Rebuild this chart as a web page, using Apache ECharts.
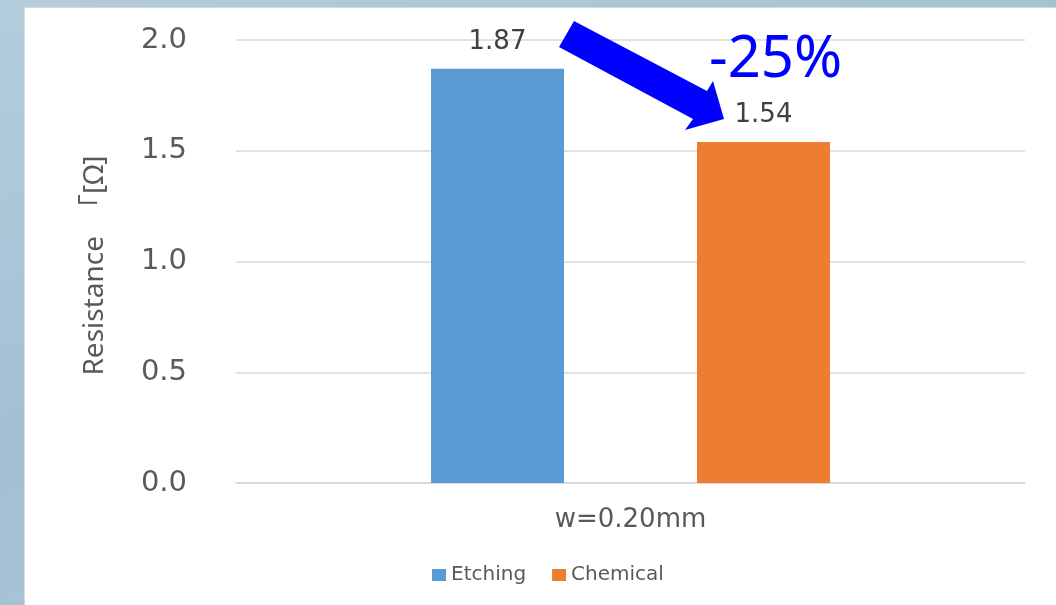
<!DOCTYPE html>
<html>
<head>
<meta charset="utf-8">
<script src="https://cdn.jsdelivr.net/npm/echarts@6/dist/echarts.min.js"></script>
<style>
  html, body { margin: 0; padding: 0; width: 1056px; height: 605px; overflow: hidden; }
  body { background: linear-gradient(160deg, #b3cddd 0%, #a3c0d3 45%, #afc9da 100%); position: relative; }
  #panel { position: absolute; left: 24px; top: 7px; right: 0; bottom: 0; background: #fff; border-left: 1px solid #d8d8d8; border-top: 1px solid #d8d8d8; }
  #chart { position: absolute; left: 0; top: 0; width: 1056px; height: 605px; }
</style>
</head>
<body>
<div id="panel"></div>
<div id="chart"></div>
<script>
// Resistance by process for a 0.20 mm wide trace
const categories = ['w=0.20mm'];
const seriesNames = ['Etching', 'Chemical'];
const etchingValues = [1.87];
const chemicalValues = [1.54];
const yTicks = [0, 0.5, 1.0, 1.5, 2.0];
const yAxisTitle = 'Resistance　「[Ω]';
const changeLabel = '-25%';

const textGrey = '#595959';
const wideFont = '"DejaVu Sans", "Noto Sans", sans-serif';
const plainFont = '"Noto Sans", "Noto Sans CJK JP", sans-serif';

const chart = echarts.init(document.getElementById('chart'), null, { renderer: 'canvas' });

const barLabel = {
  show: true,
  position: 'top',
  distance: 14,
  fontSize: 26,
  color: '#404040',
  fontFamily: wideFont,
  formatter: p => p.value.toFixed(2)
};

chart.setOption({
  backgroundColor: 'transparent',
  animation: false,
  textStyle: { fontFamily: wideFont },
  grid: { left: 236, right: 31, top: 40, bottom: 122 },
  legend: {
    data: seriesNames,
    top: 560,
    left: 427,
    icon: 'rect',
    itemWidth: 14,
    itemHeight: 12,
    itemGap: 26,
    textStyle: { fontSize: 20, color: textGrey, fontFamily: wideFont }
  },
  xAxis: {
    type: 'category',
    data: categories,
    axisLine: { lineStyle: { color: '#d9d9d9', width: 1.5 } },
    axisTick: { show: false },
    axisLabel: { fontSize: 26, color: textGrey, margin: 24, fontFamily: wideFont }
  },
  yAxis: {
    type: 'value',
    min: yTicks[0],
    max: yTicks[yTicks.length - 1],
    interval: yTicks[1] - yTicks[0],
    name: yAxisTitle,
    nameLocation: 'middle',
    nameGap: 127,
    nameTextStyle: { fontSize: 28, color: textGrey, fontFamily: plainFont, padding: [0, 8, 0, 0] },
    axisLine: { show: false },
    axisTick: { show: false },
    axisLabel: {
      fontSize: 29,
      color: textGrey,
      margin: 49,
      fontFamily: wideFont,
      formatter: v => v.toFixed(1)
    },
    splitLine: { lineStyle: { color: '#d9d9d9', width: 1.5 } }
  },
  series: [
    {
      name: seriesNames[0],
      type: 'bar',
      data: etchingValues,
      barWidth: 133,
      barGap: '100%',
      itemStyle: { color: '#5b9bd5' },
      label: barLabel
    },
    {
      name: seriesNames[1],
      type: 'bar',
      data: chemicalValues,
      barWidth: 133,
      barGap: '100%',
      itemStyle: { color: '#ed7d31' },
      label: barLabel
    }
  ],
  graphic: [
    {
      // callout arrow pointing from the etching result down to the chemical result
      type: 'polygon',
      z: 100,
      shape: {
        points: [[574, 21], [707, 91], [713, 81], [724, 119], [685, 130], [693, 119], [559, 47]]
      },
      style: { fill: '#0000ff' }
    },
    {
      type: 'text',
      z: 100,
      left: 709,
      top: 31,
      style: {
        text: changeLabel,
        fontSize: 58,
        fill: '#0000ff',
        fontFamily: plainFont
      }
    }
  ]
});
</script>
</body>
</html>
